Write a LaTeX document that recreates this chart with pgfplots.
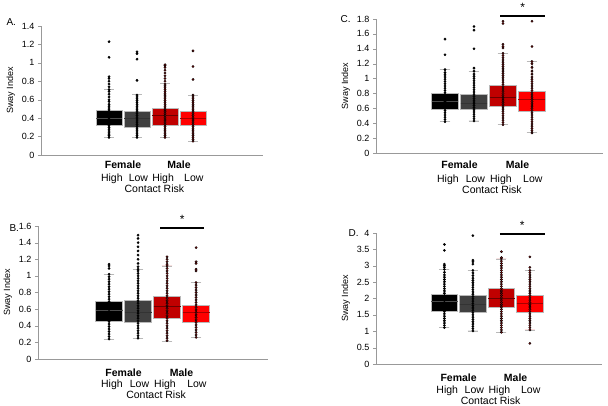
\documentclass[border=0pt]{standalone}
\usepackage{fontspec}
\setmainfont{Liberation Sans}
\usepackage{pgfplots}
\pgfplotsset{compat=1.18}
\usepgfplotslibrary{statistics}
\definecolor{fh}{HTML}{000000}
\definecolor{fl}{HTML}{404040}
\definecolor{mh}{HTML}{C00000}
\definecolor{ml}{HTML}{FF0000}
\definecolor{dotm}{HTML}{8B0A0A}
\newcommand{\bx}[8]{\addplot[fill=#1, draw=gray!55, line width=0.5pt,
  boxplot/every median/.style={draw=#8, line width=0.7pt},
  boxplot prepared={draw position=#2, lower whisker=#3, lower quartile=#4, median=#5, upper quartile=#6, upper whisker=#7, box extend=0.93, whisker extend=0.35}] coordinates {};}
\pgfplotsset{
  panel/.style={scale only axis, axis lines*=left, ymin=0, xtick=\empty,
    tick align=outside, ytick pos=left, axis line style={gray!80}, major tick length=3pt,
    tick style={gray!80}, clip=false,
    /pgf/number format/assume math mode=true,
    yticklabel style={font=\fontsize{9}{10}\selectfont},
    ylabel={Sway Index}, ylabel style={font=\fontsize{9}{10}\selectfont},
    boxplot/draw direction=y},
  fdot/.style={only marks, mark=*, mark size=1.15pt, fill=black, draw=none},
  mdot/.style={only marks, mark=*, mark size=1.15pt, fill=dotm, draw=none},
}
\newcommand{\lbl}[3]{%
  \node[anchor=base,font=\fontsize{10.5}{11}\selectfont\bfseries] at (axis cs:1.5,0) [yshift=-#1pt] {Female};
  \node[anchor=base,font=\fontsize{10.5}{11}\selectfont\bfseries] at (axis cs:3.5,0) [yshift=-#1pt] {Male};
  \node[anchor=base,font=\fontsize{10.5}{11}\selectfont] at (axis cs:1.1,0) [yshift=-#2pt] {High};
  \node[anchor=base,font=\fontsize{10.5}{11}\selectfont] at (axis cs:2.05,0) [yshift=-#2pt] {Low};
  \node[anchor=base,font=\fontsize{10.5}{11}\selectfont] at (axis cs:2.93,0) [yshift=-#2pt] {High};
  \node[anchor=base,font=\fontsize{10.5}{11}\selectfont] at (axis cs:4.03,0) [yshift=-#2pt] {Low};
  \node[anchor=base,font=\fontsize{10.5}{11}\selectfont] at (axis cs:2.62,0) [yshift=-#3pt] {Contact Risk};}
\begin{document}
\begin{tikzpicture}
\path[use as bounding box] (0,0) rectangle (608pt,405pt);
\node[anchor=west,font=\fontsize{10}{11}\selectfont] at (3pt,383pt) {A.};
\node[anchor=west,font=\fontsize{10}{11}\selectfont] at (337pt,386pt) {C.};
\node[anchor=west,font=\fontsize{10}{11}\selectfont] at (6pt,177pt) {B.};
\node[anchor=west,font=\fontsize{10}{11}\selectfont] at (345pt,172pt) {D.};
% ---------------- A
\begin{axis}[panel, at={(41pt,250pt)}, anchor=south west, width=222pt, height=129pt,
  xmin=-1.43, xmax=6.5, ymax=1.4, ytick={0,0.2,0.4,0.6,0.8,1,1.2,1.4}]
\bx{fh}{1}{0.19}{0.32}{0.40}{0.487}{0.71}{gray!60!black}
\bx{fl}{2}{0.19}{0.30}{0.397}{0.47}{0.66}{black!80}
\bx{mh}{3}{0.19}{0.325}{0.426}{0.505}{0.776}{black!45!mh}
\bx{ml}{4}{0.15}{0.325}{0.40}{0.48}{0.65}{black!35!ml}
\addplot[fdot] coordinates {(1,0.19)(1,0.21)(1,0.22)(1,0.24)(1,0.26)(1,0.28)(1,0.30)(1,0.32)(1,0.34)(1,0.35)(1,0.37)(1,0.39)(1,0.41)(1,0.43)(1,0.45)(1,0.47)(1,0.49)(1,0.51)(1,0.53)(1,0.55)(1,0.58)(1,0.60)(1,0.63)(1,0.66)(1,0.69)(1,0.71)(1,0.74)(1,0.77)(1,0.80)(1,0.83)(1,0.85)(1,1.06)(1,1.23)};
\addplot[fdot] coordinates {(2,0.19)(2,0.21)(2,0.23)(2,0.25)(2,0.27)(2,0.29)(2,0.31)(2,0.33)(2,0.35)(2,0.37)(2,0.39)(2,0.41)(2,0.43)(2,0.45)(2,0.47)(2,0.49)(2,0.51)(2,0.53)(2,0.55)(2,0.57)(2,0.59)(2,0.61)(2,0.63)(2,0.65)(2,0.81)(2,1.04)(2,1.10)(2,1.12)};
\addplot[mdot] coordinates {(3,0.19)(3,0.21)(3,0.23)(3,0.25)(3,0.27)(3,0.29)(3,0.31)(3,0.33)(3,0.35)(3,0.37)(3,0.39)(3,0.41)(3,0.43)(3,0.45)(3,0.47)(3,0.49)(3,0.51)(3,0.53)(3,0.55)(3,0.57)(3,0.59)(3,0.61)(3,0.63)(3,0.65)(3,0.67)(3,0.69)(3,0.71)(3,0.73)(3,0.75)(3,0.77)(3,0.80)(3,0.83)(3,0.86)(3,0.89)(3,0.92)(3,0.95)(3,0.97)(3,0.98)};
\addplot[mdot] coordinates {(4,0.15)(4,0.17)(4,0.19)(4,0.21)(4,0.23)(4,0.25)(4,0.27)(4,0.29)(4,0.31)(4,0.33)(4,0.35)(4,0.37)(4,0.39)(4,0.41)(4,0.43)(4,0.45)(4,0.47)(4,0.49)(4,0.51)(4,0.53)(4,0.55)(4,0.57)(4,0.59)(4,0.61)(4,0.63)(4,0.65)(4,0.82)(4,0.96)(4,1.13)};
\lbl{13}{26}{37}
\end{axis}
% ---------------- C
\begin{axis}[panel, at={(376pt,252pt)}, anchor=south west, width=227pt, height=134pt,
  xmin=-1.38, xmax=6.45, ymax=1.8, ytick={0,0.2,0.4,0.6,0.8,1,1.2,1.4,1.6,1.8}]
\bx{fh}{1}{0.42}{0.588}{0.69}{0.80}{1.12}{gray!60!black}
\bx{fl}{2}{0.43}{0.583}{0.67}{0.79}{1.10}{black!80}
\bx{mh}{3}{0.38}{0.628}{0.754}{0.907}{1.34}{black!45!mh}
\bx{ml}{4}{0.274}{0.557}{0.718}{0.83}{1.234}{black!35!ml}
\addplot[fdot] coordinates {(1,0.42)(1,0.45)(1,0.48)(1,0.51)(1,0.54)(1,0.57)(1,0.60)(1,0.63)(1,0.66)(1,0.69)(1,0.72)(1,0.75)(1,0.78)(1,0.81)(1,0.84)(1,0.87)(1,0.90)(1,0.93)(1,0.96)(1,0.99)(1,1.02)(1,1.05)(1,1.08)(1,1.12)(1,1.32)(1,1.53)};
\addplot[fdot] coordinates {(2,0.43)(2,0.46)(2,0.49)(2,0.52)(2,0.55)(2,0.58)(2,0.61)(2,0.64)(2,0.67)(2,0.70)(2,0.73)(2,0.76)(2,0.79)(2,0.82)(2,0.85)(2,0.88)(2,0.91)(2,0.94)(2,0.97)(2,1.00)(2,1.03)(2,1.06)(2,1.10)(2,1.14)(2,1.40)(2,1.65)(2,1.70)};
\addplot[mdot] coordinates {(3,0.38)(3,0.41)(3,0.44)(3,0.47)(3,0.50)(3,0.53)(3,0.56)(3,0.59)(3,0.62)(3,0.65)(3,0.68)(3,0.71)(3,0.74)(3,0.77)(3,0.80)(3,0.83)(3,0.86)(3,0.89)(3,0.92)(3,0.95)(3,0.98)(3,1.01)(3,1.04)(3,1.07)(3,1.10)(3,1.13)(3,1.16)(3,1.19)(3,1.22)(3,1.25)(3,1.28)(3,1.31)(3,1.34)(3,1.41)(3,1.43)(3,1.46)(3,1.74)(3,1.77)};
\addplot[mdot] coordinates {(4,0.27)(4,0.30)(4,0.33)(4,0.36)(4,0.39)(4,0.42)(4,0.45)(4,0.48)(4,0.51)(4,0.54)(4,0.57)(4,0.60)(4,0.63)(4,0.66)(4,0.69)(4,0.72)(4,0.75)(4,0.78)(4,0.81)(4,0.84)(4,0.87)(4,0.90)(4,0.93)(4,0.96)(4,0.99)(4,1.02)(4,1.06)(4,1.10)(4,1.15)(4,1.20)(4,1.23)(4,1.43)(4,1.77)};
\draw[line width=2.5pt] (axis cs:2.90,1.84) -- (axis cs:4.45,1.84);
\node[font=\fontsize{12}{12}\selectfont] at (axis cs:3.68,1.95) {*};
\lbl{16}{29}{40}
\end{axis}
% ---------------- B
\begin{axis}[panel, at={(38pt,46pt)}, anchor=south west, width=230pt, height=133pt,
  xmin=-1.45, xmax=6.48, ymax=1.6, ytick={0,0.2,0.4,0.6,0.8,1,1.2,1.4,1.6}]
\bx{fh}{1}{0.24}{0.455}{0.59}{0.70}{1.02}{gray!60!black}
\bx{fl}{2}{0.25}{0.447}{0.567}{0.706}{1.08}{black!80}
\bx{mh}{3}{0.215}{0.495}{0.63}{0.75}{1.12}{black!45!mh}
\bx{ml}{4}{0.26}{0.443}{0.56}{0.65}{0.92}{black!35!ml}
\addplot[fdot] coordinates {(1,0.24)(1,0.27)(1,0.30)(1,0.33)(1,0.36)(1,0.39)(1,0.42)(1,0.45)(1,0.48)(1,0.51)(1,0.54)(1,0.57)(1,0.60)(1,0.63)(1,0.66)(1,0.69)(1,0.72)(1,0.75)(1,0.78)(1,0.81)(1,0.84)(1,0.87)(1,0.90)(1,0.93)(1,0.96)(1,0.99)(1,1.02)(1,1.09)(1,1.12)(1,1.14)};
\addplot[fdot] coordinates {(2,0.25)(2,0.28)(2,0.31)(2,0.34)(2,0.37)(2,0.40)(2,0.43)(2,0.46)(2,0.49)(2,0.52)(2,0.55)(2,0.58)(2,0.61)(2,0.64)(2,0.67)(2,0.70)(2,0.73)(2,0.76)(2,0.79)(2,0.82)(2,0.85)(2,0.88)(2,0.91)(2,0.94)(2,0.97)(2,1.00)(2,1.03)(2,1.06)(2,1.08)(2,1.11)(2,1.15)(2,1.20)(2,1.25)(2,1.30)(2,1.35)(2,1.40)(2,1.45)(2,1.49)};
\addplot[mdot] coordinates {(3,0.22)(3,0.25)(3,0.28)(3,0.31)(3,0.34)(3,0.37)(3,0.40)(3,0.43)(3,0.46)(3,0.49)(3,0.52)(3,0.55)(3,0.58)(3,0.61)(3,0.64)(3,0.67)(3,0.70)(3,0.73)(3,0.76)(3,0.79)(3,0.82)(3,0.85)(3,0.88)(3,0.91)(3,0.94)(3,0.97)(3,1.00)(3,1.03)(3,1.06)(3,1.09)(3,1.12)(3,1.14)(3,1.17)(3,1.20)(3,1.23)};
\addplot[mdot] coordinates {(4,0.26)(4,0.29)(4,0.32)(4,0.35)(4,0.38)(4,0.41)(4,0.44)(4,0.47)(4,0.50)(4,0.53)(4,0.56)(4,0.59)(4,0.62)(4,0.65)(4,0.68)(4,0.71)(4,0.74)(4,0.77)(4,0.80)(4,0.83)(4,0.86)(4,0.89)(4,0.92)(4,1.06)(4,1.08)(4,1.15)(4,1.17)(4,1.34)};
\draw[line width=2.5pt] (axis cs:2.76,1.576) -- (axis cs:4.28,1.576);
\node[font=\fontsize{12}{12}\selectfont] at (axis cs:3.52,1.68) {*};
\lbl{17}{28}{39}
\end{axis}
% ---------------- D
\begin{axis}[panel, at={(376pt,41pt)}, anchor=south west, width=226pt, height=131pt,
  xmin=-1.40, xmax=6.53, ymax=4, ytick={0,0.5,1,1.5,2,2.5,3,3.5,4}]
\bx{fh}{1}{1.11}{1.62}{1.90}{2.13}{2.89}{gray!60!black}
\bx{fl}{2}{1.01}{1.57}{1.81}{2.09}{2.86}{black!80}
\bx{mh}{3}{0.97}{1.72}{1.99}{2.32}{3.21}{black!45!mh}
\bx{ml}{4}{1.04}{1.57}{1.86}{2.09}{2.86}{black!35!ml}
\addplot[fdot] coordinates {(1,1.11)(1,1.18)(1,1.25)(1,1.32)(1,1.39)(1,1.46)(1,1.53)(1,1.60)(1,1.67)(1,1.74)(1,1.81)(1,1.88)(1,1.95)(1,2.02)(1,2.09)(1,2.16)(1,2.23)(1,2.30)(1,2.37)(1,2.44)(1,2.51)(1,2.58)(1,2.65)(1,2.72)(1,2.80)(1,2.89)(1,2.95)(1,3.00)(1,3.05)(1,3.47)(1,3.65)};
\addplot[fdot] coordinates {(2,1.01)(2,1.08)(2,1.15)(2,1.22)(2,1.29)(2,1.36)(2,1.43)(2,1.50)(2,1.57)(2,1.64)(2,1.71)(2,1.78)(2,1.85)(2,1.92)(2,1.99)(2,2.06)(2,2.13)(2,2.20)(2,2.27)(2,2.34)(2,2.41)(2,2.48)(2,2.55)(2,2.62)(2,2.70)(2,2.78)(2,2.86)(2,3.05)(2,3.12)(2,3.17)(2,3.92)};
\addplot[mdot] coordinates {(3,0.97)(3,1.04)(3,1.11)(3,1.18)(3,1.25)(3,1.32)(3,1.39)(3,1.46)(3,1.53)(3,1.60)(3,1.67)(3,1.74)(3,1.81)(3,1.88)(3,1.95)(3,2.02)(3,2.09)(3,2.16)(3,2.23)(3,2.30)(3,2.37)(3,2.44)(3,2.51)(3,2.58)(3,2.65)(3,2.72)(3,2.79)(3,2.86)(3,2.93)(3,3.00)(3,3.07)(3,3.14)(3,3.21)(3,3.25)(3,3.43)};
\addplot[mdot] coordinates {(4,0.63)(4,1.04)(4,1.11)(4,1.18)(4,1.25)(4,1.32)(4,1.39)(4,1.46)(4,1.53)(4,1.60)(4,1.67)(4,1.74)(4,1.81)(4,1.88)(4,1.95)(4,2.02)(4,2.09)(4,2.16)(4,2.23)(4,2.30)(4,2.37)(4,2.44)(4,2.51)(4,2.58)(4,2.65)(4,2.72)(4,2.79)(4,2.86)(4,2.95)(4,3.27)};
\draw[line width=2.5pt] (axis cs:2.95,3.97) -- (axis cs:4.53,3.97);
\node[font=\fontsize{12}{12}\selectfont] at (axis cs:3.73,4.22) {*};
\lbl{17}{29}{40}
\end{axis}
\end{tikzpicture}
\end{document}
